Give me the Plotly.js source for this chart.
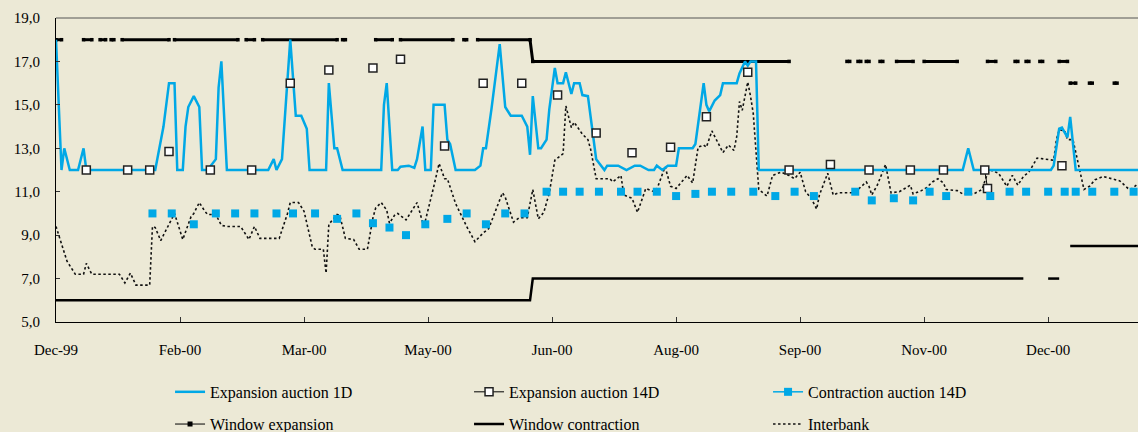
<!DOCTYPE html>
<html>
<head>
<meta charset="utf-8">
<script src="https://cdn.plot.ly/plotly-3.0.1.min.js"></script>
<style>html,body{margin:0;padding:0;background:#ECE9D6;}#chart{width:1138px;height:432px;}</style>
</head>
<body>
<div id="chart"></div>
<script>
// Day offsets counted from 31 Dec 1999
const BASE_DATE = Date.UTC(1999, 11, 31);

const tickDays = [0, 45, 90, 135, 180, 225, 270, 315, 360];
const tickLabels = ['Dec-99', 'Feb-00', 'Mar-00', 'May-00', 'Jun-00', 'Aug-00', 'Sep-00', 'Nov-00', 'Dec-00'];

// Expansion auction 1D
const e1Day = [0,2,3,5,8,10,11,36,39,41,43,44,46,47,48,50,52,53,55,58,59,60,62,77,79,80,82,85,87,89,91,92,98,99,101,102,104,118,119,120,122,124,125,128,130,131,133,134,136,137,141,142,143,145,152,154,155,156,158,160,161,163,165,169,171,172,173,175,176,178,179,181,182,184,185,187,188,190,191,193,194,196,199,200,204,207,210,212,215,217,218,220,222,225,226,231,232,234,235,236,237,239,241,242,247,248,250,251,252,254,255,329,331,333,361,362,364,365,367,368,370,393];
const e1Rate = [18,12,13,12,12,13,12,12,14,16,16,12,12,14,14.9,15.4,14.9,12,12,12.5,15.8,17,12,12,12.5,12,12.5,18,14.5,14.5,13.9,12,12,16,13,13,12,12,15,16,12,12,12.15,12.2,12.1,12.5,14,12,12,15,15,13.4,13.2,12,12,12.2,13,13,14.8,17,17.8,14.9,14.5,14.5,14,12.7,15.4,13,13,13.4,14.8,16.7,16,16,16.5,15.5,16,16,15.45,15.4,14.5,12.5,12,12.2,12.2,12,12.2,12.2,12,12,12.2,12,12.2,12.2,13,13,13.2,15,16,15,14.7,15.2,15.45,16,16,16.45,17,16.8,17,17,12,12,13,12,12,12.2,13.9,13.95,13.5,14.45,12,12];

// Expansion auction 14D
const e14Day = [11,null,26,null,34,null,41,null,56,null,71,null,85,null,99,null,115,null,125,null,141,null,155,null,169,null,182,null,196,null,209,null,223,null,236,null,251,null,266,null,281,null,295,null,310,null,322,null,337,338,null,365];
const e14Rate = [12,null,12,null,12,null,12.85,null,12,null,12,null,16,null,16.6,null,16.7,null,17.1,null,13.1,null,16,null,16,null,15.45,null,13.7,null,12.8,null,13.05,null,14.45,null,16.5,null,12,null,12.25,null,12,null,12,null,12,null,12,11.15,null,12.2];

// Contraction auction 14D
const c14Day = [35,42,50,58,65,72,80,86,94,102,109,115,121,127,134,142,149,156,163,170,178,184,190,197,205,211,218,225,232,238,245,253,261,268,275,290,296,304,311,317,323,331,339,346,352,360,366,370,376,384,391];
const c14Rate = [10,10,9.5,10,10,10,10,10,10,9.75,10,9.55,9.35,9.0,9.5,9.75,10,9.5,10,10,11,11,11,11,11,11,11,10.8,10.9,11,11,11,10.8,11,10.8,11,10.6,10.7,10.6,11,10.8,11,10.8,11,11,11,11,11,11,11,11];

// Window expansion (runs of quoted days, gaps as null)
const weDay = [0,2,null,10,13,null,16,18,null,20,21,null,24,41,null,43,66,null,69,72,null,75,102,null,104,105,null,116,122,null,125,144,null,148,149,null,153,172,173,266,null,287,288,null,291,292,null,294,295,null,299,300,null,305,311,null,315,327,null,338,341,null,348,349,null,352,353,null,357,358,null,364,367,null,368,370,null,375,376,null,384,385];
const weRate = [18,18,null,18,18,null,18,18,null,18,18,null,18,18,null,18,18,null,18,18,null,18,18,null,18,18,null,18,18,null,18,18,null,18,18,null,18,18,17,17,null,17,17,null,17,17,null,17,17,null,17,17,null,17,17,null,17,17,null,17,17,null,17,17,null,17,17,null,17,17,null,17,17,null,16,16,null,16,16,null,16,16];

// Window contraction
const wcDay = [0,172,173,351,null,360,364,null,368,393];
const wcRate = [6,6,7,7,null,7,7,null,8.5,8.5];

// Interbank
const ibDay = [0,3,4,7,10,11,13,23,25,27,29,34,35,36,38,40,43,46,49,50,52,54,55,58,60,62,67,70,72,74,81,84,85,88,90,93,94,97,98,99,102,103,105,108,110,113,115,116,118,120,121,123,124,127,129,131,133,134,137,139,141,142,145,149,152,155,157,159,162,163,166,168,171,173,175,177,179,181,184,185,187,188,191,193,194,196,201,202,205,206,209,211,214,217,218,221,223,225,229,231,233,235,236,238,240,242,244,246,247,248,249,251,252,253,255,256,258,260,263,266,268,270,272,274,276,277,280,282,284,289,291,294,295,296,298,301,303,306,310,311,314,316,318,320,322,323,327,329,333,336,338,339,342,345,347,349,351,353,356,359,362,363,364,366,367,369,370,372,373,375,377,380,383,386,389,390,392];
const ibRate = [9.4,8.15,7.8,7.2,7.2,7.7,7.2,7.2,6.8,7.25,6.7,6.7,9.4,9.35,8.75,9.25,10.0,8.8,9.85,10.0,10.5,10.1,9.95,9.95,9.45,9.4,9.4,8.8,9.4,8.85,8.85,10.0,10.5,10.5,10.1,8.45,8.35,8.35,7.25,9.5,9.95,9.9,8.85,8.8,8.35,8.35,9.8,10.25,10.5,10.15,9.55,9.95,10.0,9.7,10.1,10.5,9.6,9.65,11.2,12.3,11.6,11.6,10.45,9.4,8.7,9.1,9.3,10.0,10.95,10.75,9.6,9.8,9.8,11.1,9.75,10.05,10.95,12.45,12.75,14.95,13.95,14.2,13.65,13.4,12.95,11.6,11.6,11.45,11.75,10.85,10.7,10.05,11.15,11.0,11.1,12.15,11.25,11.15,11.75,11.4,13.05,13.15,13.05,13.8,13.3,12.8,13.15,12.9,13.55,15.15,14.75,16.05,15.4,14.6,11.1,11.0,10.8,11.75,11.9,11.75,11.6,11.9,11.0,10.7,10.2,10.85,11.85,10.85,10.95,10.95,11.1,11.45,11.25,10.85,11.3,12.25,10.95,11.0,11.3,10.9,11.05,11.2,11.45,11.6,11.4,11.1,11.05,10.9,10.9,11.1,11.85,12.0,11.85,11.25,11.75,11.3,11.7,11.9,12.55,12.5,12.45,13.4,13.85,13.8,13.4,13.4,12.8,11.7,11.1,11.25,11.55,11.7,11.6,11.5,11.15,11.1,11.3];

function toDate(d) {
  if (d === null) return null;
  return new Date(BASE_DATE + d * 86400000).toISOString().slice(0, 19).replace('T', ' ');
}
const dates = arr => arr.map(toDate);

const BLUE = '#00A8E6';
const BG = '#ECE9D6';
const FONT = '"Liberation Serif", "Times New Roman", Times, serif';

const traces = [
  { // legend entry for window expansion
    x: [null], y: [null], type: 'scatter', mode: 'lines+markers', name: 'Window expansion',
    legend: 'legend2', line: {color: '#000', width: 1},
    marker: {symbol: 'square', size: 5, color: '#000'}, hoverinfo: 'skip'
  },
  {
    x: dates(wcDay), y: wcRate, type: 'scatter', mode: 'lines', name: 'Window contraction',
    legend: 'legend2', line: {color: '#000', width: 2.5}, connectgaps: false
  },
  {
    x: dates(weDay), y: weRate, type: 'scatter', mode: 'lines+markers', name: 'Window expansion',
    showlegend: false, line: {color: '#000', width: 3}, connectgaps: false,
    marker: {symbol: 'square', size: 3.5, color: '#000'}
  },
  {
    x: dates(ibDay), y: ibRate, type: 'scatter', mode: 'lines', name: 'Interbank',
    legend: 'legend2', line: {color: '#111', width: 1.6, dash: '2.5px,2.5px'}
  },
  {
    x: dates(e1Day), y: e1Rate, type: 'scatter', mode: 'lines', name: 'Expansion auction 1D',
    legend: 'legend', line: {color: BLUE, width: 2.5}
  },
  {
    x: dates(e14Day), y: e14Rate, type: 'scatter', mode: 'lines+markers', name: 'Expansion auction 14D',
    legend: 'legend', connectgaps: false, line: {color: '#000', width: 1},
    marker: {symbol: 'square', size: 8, color: '#fff', line: {color: '#222', width: 1.5}}
  },
  {
    x: [null], y: [null], type: 'scatter', mode: 'lines+markers', name: 'Contraction auction 14D',
    legend: 'legend', line: {color: BLUE, width: 1.5},
    marker: {symbol: 'square', size: 8, color: BLUE}, hoverinfo: 'skip'
  },
  {
    x: dates(c14Day), y: c14Rate, type: 'scatter', mode: 'markers', name: 'Contraction auction 14D',
    showlegend: false, marker: {symbol: 'square', size: 8, color: BLUE}
  }
];

const legendCommon = {
  orientation: 'h', xanchor: 'left', yanchor: 'middle', x: 0.1054,
  entrywidth: 254, entrywidthmode: 'pixels', bgcolor: 'rgba(0,0,0,0)',
  font: {family: FONT, size: 16, color: '#000'}, traceorder: 'normal'
};

const layout = {
  width: 1138, height: 432,
  margin: {l: 56, r: 0, t: 18, b: 110, autoexpand: false},
  paper_bgcolor: BG, plot_bgcolor: BG,
  separators: ',.',
  font: {family: FONT, size: 15, color: '#000'},
  showlegend: true,
  xaxis: {
    type: 'date', range: [toDate(0), toDate(392.6)],
    tickmode: 'array', tickvals: dates(tickDays), ticktext: tickLabels,
    ticks: 'inside', ticklen: 5, tickcolor: '#333', tickwidth: 1,
    showline: true, linecolor: '#000', linewidth: 1,
    showgrid: false, zeroline: false, ticklabelstandoff: 14, automargin: false,
    tickfont: {family: FONT, size: 15, color: '#000'}
  },
  yaxis: {
    range: [5, 19], dtick: 2, tick0: 5, tickformat: '.1f',
    ticks: 'inside', ticklen: 4, tickcolor: '#333',
    showline: true, linecolor: '#000', linewidth: 1,
    showgrid: false, zeroline: false, ticklabelstandoff: 12, automargin: false,
    tickfont: {family: FONT, size: 15, color: '#000'}
  },
  shapes: [{type: 'line', xref: 'paper', yref: 'paper', x0: 0, x1: 1, y0: 1, y1: 1, line: {color: '#555', width: 1}}],
  legend: Object.assign({}, legendCommon, {y: -0.230}),
  legend2: Object.assign({}, legendCommon, {y: -0.336})
};

Plotly.newPlot('chart', traces, layout, {displayModeBar: false, staticPlot: true});
</script>
</body>
</html>
